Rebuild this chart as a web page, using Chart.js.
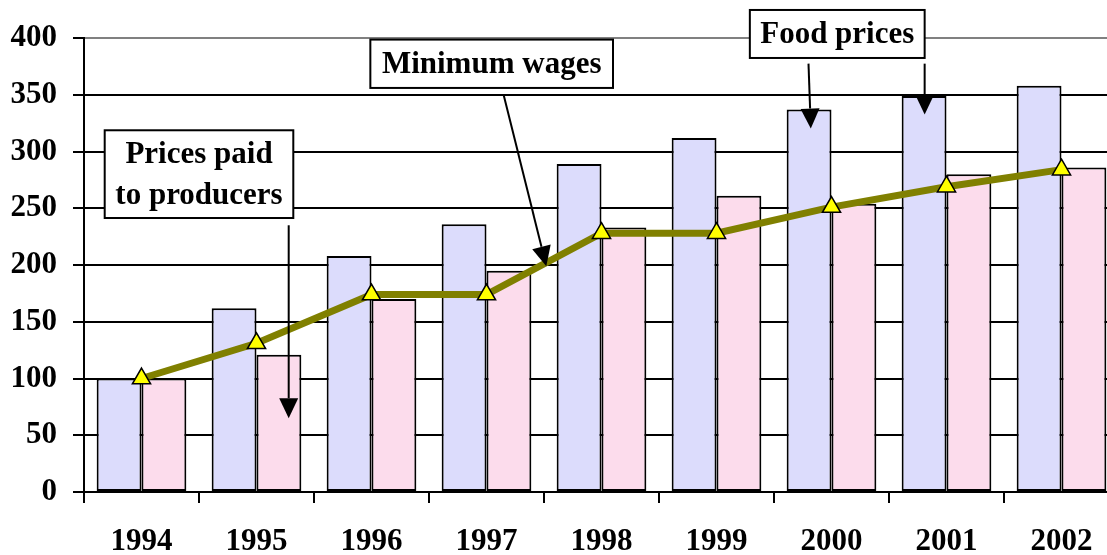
<!DOCTYPE html>
<html>
<head>
<meta charset="utf-8">
<script src="https://cdn.jsdelivr.net/npm/chart.js@4"></script>
<style>
  html, body { margin: 0; padding: 0; background: #fff; overflow: hidden; }
  /* plot runs a little past the right edge of the window, as in the original */
  #wrap { position: absolute; left: 0; top: 0; width: 1119px; height: 555px; }
</style>
</head>
<body>
<div id="wrap"><canvas id="chart" width="1119" height="555"></canvas></div>
<script>
// index, 1994 = 100
const years = ['1994', '1995', '1996', '1997', '1998', '1999', '2000', '2001', '2002'];
const foodPrices = [100, 162, 208, 236, 289, 312, 337, 349, 358];
const producerPrices = [100, 121, 170, 195, 233, 261, 254, 280, 286];
const minimumWages = [100, 131, 174, 174, 228, 228, 251, 269, 284];
const yTicks = [0, 50, 100, 150, 200, 250, 300, 350, 400];

const FONT = 'Liberation Serif, Times New Roman, serif';

// callout boxes: x in category index units, y in index values
const callouts = [
  { lines: ['Prices paid', 'to producers'], box: [-0.32, 318.7, 1.32, 241.4],
    arrows: [[1.28, 235, 1.28, 65]] },
  { lines: ['Minimum wages'], box: [1.99, 398.6, 4.10, 356],
    arrows: [[3.15, 349.5, 3.52, 198.9]] },
  { lines: ['Food prices'], box: [5.29, 424.7, 6.81, 382.4],
    arrows: [[5.80, 377.4, 5.82, 320.2], [6.81, 377.4, 6.81, 332.5]] }
];

function drawArrow(ctx, x1, y1, x2, y2) {
  const ang = Math.atan2(y2 - y1, x2 - x1);
  const len = 20, half = 9.5;
  const bx = x2 - Math.cos(ang) * len, by = y2 - Math.sin(ang) * len;
  ctx.beginPath();
  ctx.moveTo(x1, y1);
  ctx.lineTo(bx, by);
  ctx.stroke();
  ctx.beginPath();
  ctx.moveTo(x2, y2);
  ctx.lineTo(bx + Math.sin(ang) * half, by - Math.cos(ang) * half);
  ctx.lineTo(bx - Math.sin(ang) * half, by + Math.cos(ang) * half);
  ctx.closePath();
  ctx.fill();
}

const calloutPlugin = {
  id: 'callouts',
  afterDraw(chart) {
    const ctx = chart.ctx;
    const xs = chart.scales.x, ys = chart.scales.y;
    ctx.save();
    ctx.strokeStyle = '#000';
    ctx.fillStyle = '#000';
    ctx.lineWidth = 2;
    callouts.forEach(c => {
      c.arrows.forEach(a => {
        drawArrow(ctx, xs.getPixelForValue(a[0]), ys.getPixelForValue(a[1]),
          xs.getPixelForValue(a[2]), ys.getPixelForValue(a[3]));
      });
      const l = xs.getPixelForValue(c.box[0]), t = ys.getPixelForValue(c.box[1]);
      const r = xs.getPixelForValue(c.box[2]), b = ys.getPixelForValue(c.box[3]);
      ctx.fillStyle = '#fff';
      ctx.fillRect(l, t, r - l, b - t);
      ctx.strokeRect(l, t, r - l, b - t);
      ctx.fillStyle = '#000';
      ctx.font = 'bold 31px ' + FONT;
      ctx.textAlign = 'center';
      ctx.textBaseline = 'middle';
      const lh = 41;
      const cy = (t + b) / 2 - (c.lines.length - 1) * lh / 2;
      c.lines.forEach((s, i) => ctx.fillText(s, (l + r) / 2, cy + i * lh + 1));
    });
    ctx.restore();
  }
};

new Chart(document.getElementById('chart').getContext('2d'), {
  type: 'bar',
  data: {
    labels: years,
    datasets: [
      {
        type: 'line',
        label: 'Minimum wages',
        data: minimumWages,
        borderColor: '#808000',
        borderWidth: 7,
        tension: 0,
        pointStyle: 'triangle',
        pointRadius: 10.5,
        pointBackgroundColor: '#FFFF00',
        pointBorderColor: '#000',
        pointBorderWidth: 1.5,
        order: 0
      },
      {
        label: 'Food prices',
        data: foodPrices,
        backgroundColor: '#DCDCFC',
        borderColor: '#000',
        borderWidth: 2,
        borderSkipped: false,
        categoryPercentage: 0.78,
        barPercentage: 1.0,
        order: 1
      },
      {
        label: 'Prices paid to producers',
        data: producerPrices,
        backgroundColor: '#FCDCEC',
        borderColor: '#000',
        borderWidth: 2,
        borderSkipped: false,
        categoryPercentage: 0.78,
        barPercentage: 1.0,
        order: 2
      }
    ]
  },
  options: {
    responsive: false,
    animation: false,
    layout: { autoPadding: false, padding: { left: 0, right: 0, top: 38, bottom: 0 } },
    plugins: {
      legend: { display: false },
      tooltip: { enabled: false }
    },
    scales: {
      x: {
        grid: { drawOnChartArea: false, drawTicks: true, tickLength: 11, color: '#000', lineWidth: 2 },
        border: { display: true, color: '#000', width: 2 },
        ticks: { color: '#000', padding: 20, font: { family: FONT, size: 31, weight: 'bold' } },
        afterFit(scale) {
          scale.height = 63;
          scale.paddingLeft = 0;
          scale.paddingRight = 0;
        }
      },
      y: {
        min: 0,
        max: 400,
        afterBuildTicks(scale) { scale.ticks = yTicks.map(v => ({ value: v })); },
        grid: {
          color: c => (c.tick && c.tick.value === 400 ? '#808080' : '#000'),
          tickColor: '#000',
          lineWidth: 2,
          tickLength: 11
        },
        border: { display: true, color: '#000', width: 2 },
        ticks: { color: '#000', padding: 16, font: { family: FONT, size: 31, weight: 'bold' } },
        afterFit(scale) { scale.width = 84; }
      }
    }
  },
  plugins: [calloutPlugin]
});
</script>
</body>
</html>
